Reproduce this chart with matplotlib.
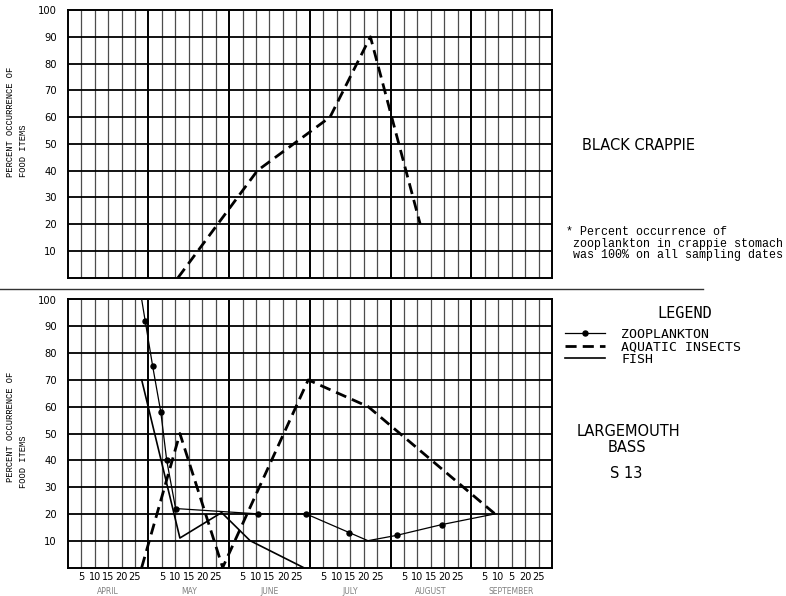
import matplotlib
matplotlib.use('Agg')
import matplotlib.pyplot as plt
from matplotlib.lines import Line2D
from matplotlib import font_manager

W, H = 786, 596

months = ['APRIL', 'MAY', 'JUNE', 'JULY', 'AUGUST', 'SEPTEMBER']
day_labels = ['5', '10', '15', '20', '25']
sept_labels = ['5', '10', '5', '20', '25']   # as printed on the original sheet
y_ticks = [10, 20, 30, 40, 50, 60, 70, 80, 90, 100]

# x = days counted from April 1 (30 days per month on the chart)
crappie_days = [41, 70.5, 97.5, 112.5, 131]
crappie_insects = [0, 40, 60, 90, 20]

zoo_days = [27.5, 28.8, 31.6, 34.6, 36.8, 40.1, 70.9, 88.6, 104.7, 111.6, 122.3, 139, 158.8]
zoo_vals = [100, 92, 75, 58, 40, 22, 20, 20, 13, 10, 12, 16, 20]
zoo_dots = [1, 2, 3, 4, 5, 6, 7, 8, 10, 11]

insect_days = [27.5, 41.7, 57.6, 89.4, 111.7, 158.8]
insect_vals = [0, 50, 0, 70, 60, 20]

fish_days = [27.5, 41.7, 57.2, 67.8, 87.6]
fish_vals = [70, 11, 20.5, 10, 0]

installed = {f.name for f in font_manager.fontManager.ttflist}
narrow = 'Liberation Sans Narrow' if 'Liberation Sans Narrow' in installed else 'DejaVu Sans Mono'

dash = (0, (4, 2.2))


def fx(x):
    return x / W


def fy(y):
    return 1 - y / H


def grid_panel(ax):
    ax.set_xlim(0, 180)
    ax.set_ylim(0, 100)
    for d in range(5, 180, 5):
        if d % 30 == 0:
            ax.axvline(d, color='k', lw=1.4, zorder=1)
        else:
            ax.axvline(d, color='0.3', lw=0.9, zorder=1)
    for v in y_ticks[:-1]:
        ax.axhline(v, color='k', lw=1.3, zorder=1)
    ax.set_yticks(y_ticks)
    ax.set_yticklabels([str(v) for v in y_ticks], fontsize=7.2)
    ax.tick_params(length=0, pad=8)
    for s in ax.spines.values():
        s.set_linewidth(1.4)


fig = plt.figure(figsize=(W / 100, H / 100), dpi=100)
ax_top = fig.add_axes([fx(67.7), fy(277.7), (552 - 67.7) / W, 267.7 / H])
ax_bot = fig.add_axes([fx(67.7), fy(567.5), (552 - 67.7) / W, 268 / H])

# black crappie
grid_panel(ax_top)
ax_top.set_xticks([])
ax_top.plot(crappie_days, crappie_insects, color='k', lw=2, ls=dash, zorder=3)

# largemouth bass
grid_panel(ax_bot)
ticks, labels = [], []
for m in range(len(months)):
    labs = sept_labels if months[m] == 'SEPTEMBER' else day_labels
    for d, lab in zip([5, 10, 15, 20, 25], labs):
        ticks.append(m * 30 + d)
        labels.append(lab)
ax_bot.set_xticks(ticks)
ax_bot.set_xticklabels(labels, fontsize=7)
ax_bot.tick_params(axis='x', pad=3.2)
for m, name in enumerate(months):
    ax_bot.text(m * 30 + 15, -0.088, name, transform=ax_bot.get_xaxis_transform(),
                ha='center', va='center', fontsize=5.5, color='0.5')

ax_bot.plot(zoo_days, zoo_vals, color='k', lw=0.9, marker='o', ms=3.6,
            markevery=zoo_dots, zorder=4)
ax_bot.plot(insect_days, insect_vals, color='k', lw=2, ls=dash, zorder=3)
ax_bot.plot(fish_days, fish_vals, color='k', lw=1.2, zorder=3)

# axis titles (typed, two lines each)
ylab1 = 'PERCENT OCCURRENCE OF'
ylab2 = 'FOOD ITEMS'
for (y1, y2) in [(122, 151), (427, 462)]:
    fig.text(fx(11), fy(y1), ylab1, rotation=90, ha='center', va='center',
             fontsize=6.3, family='Liberation Mono')
    fig.text(fx(24), fy(y2), ylab2, rotation=90, ha='center', va='center',
             fontsize=6.3, family='Liberation Mono')

# separator between the two panels
fig.add_artist(Line2D([0, fx(703)], [fy(289), fy(289)], transform=fig.transFigure,
                      color='0.2', lw=1))

fig.text(fx(638), fy(145), 'BLACK CRAPPIE', ha='center', va='center', fontsize=10.5)
note = ['* Percent occurrence of',
        ' zooplankton in crappie stomach',
        ' was 100% on all sampling dates']
for i, line in enumerate(note):
    fig.text(fx(566), fy(232 + i * 11.7), line, ha='left', va='center',
             fontsize=8.4, family='Liberation Mono')

fig.text(fx(685), fy(313), 'LEGEND', ha='center', va='center', fontsize=11, family=narrow)
handles = [Line2D([], [], color='k', lw=0.9, marker='o', ms=3.6),
           Line2D([], [], color='k', lw=2, ls=dash),
           Line2D([], [], color='k', lw=1.2)]
fig.legend(handles, ['ZOOPLANKTON', 'AQUATIC INSECTS', 'FISH'], loc='upper left',
           bbox_to_anchor=(fx(565), fy(328)), frameon=False,
           prop={'family': 'DejaVu Sans Mono', 'size': 9.5},
           handlelength=3.0, handletextpad=1.25, labelspacing=-0.05,
           borderpad=0, borderaxespad=0, numpoints=1)

fig.text(fx(628), fy(432), 'LARGEMOUTH', ha='center', va='center', fontsize=10.5)
fig.text(fx(627), fy(447), 'BASS', ha='center', va='center', fontsize=10.5)
fig.text(fx(626), fy(473), 'S 13', ha='center', va='center', fontsize=10.5)

fig.savefig('out.png', dpi=100)
